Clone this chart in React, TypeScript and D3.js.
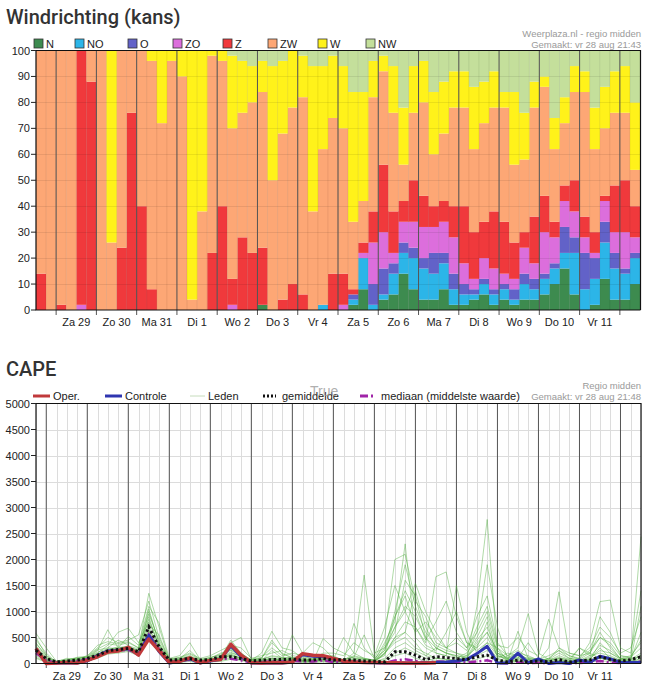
import * as d3 from "d3";

// ---- Windrichting (kans): percentage per direction, 60 six-hour slots ----
const dirKeys = ["N", "NO", "O", "ZO", "Z", "ZW", "W", "NW"];
const dirColors = ["#3d8b4f", "#2cb5e8", "#6262c8", "#dc6edc", "#f0393c", "#fda775", "#fff21a", "#c4df9b"];

const dirN = [
  0, 0, 0, 0, 0, 0, 0, 0, 0, 0,
  0, 0, 0, 0, 0, 0, 0, 0, 0, 0,
  0, 0, 2, 0, 0, 0, 0, 0, 0, 0,
  0, 2, 8, 0, 4, 6, 14, 8, 4, 4,
  8, 2, 2, 4, 6, 2, 4, 2, 4, 4,
  6, 10, 16, 6, 0, 2, 12, 4, 4, 10,
];
const dirNO = [
  0, 0, 0, 0, 0, 0, 0, 0, 0, 0,
  0, 0, 0, 0, 0, 0, 0, 0, 0, 0,
  0, 0, 0, 0, 0, 0, 0, 0, 2, 0,
  0, 2, 12, 2, 2, 8, 8, 12, 12, 10,
  10, 6, 4, 2, 4, 4, 4, 2, 6, 4,
  6, 6, 6, 16, 8, 10, 14, 12, 10, 10,
];
const dirO = [
  0, 0, 0, 0, 0, 0, 0, 0, 0, 0,
  0, 0, 0, 0, 0, 0, 0, 0, 0, 0,
  0, 0, 0, 0, 0, 0, 0, 0, 0, 0,
  0, 2, 0, 8, 10, 4, 4, 4, 4, 8,
  4, 6, 4, 2, 2, 2, 2, 4, 4, 4,
  2, 2, 10, 6, 14, 8, 8, 6, 2, 2,
];
const dirZO = [
  0, 0, 0, 0, 2, 0, 0, 0, 0, 0,
  0, 0, 0, 0, 0, 0, 0, 0, 0, 2,
  0, 0, 0, 0, 0, 0, 0, 0, 0, 0,
  2, 0, 2, 16, 14, 4, 8, 10, 12, 10,
  12, 14, 8, 4, 8, 8, 4, 4, 10, 6,
  16, 10, 10, 10, 6, 2, 8, 8, 14, 6,
];
const dirZ = [
  14, 0, 2, 0, 98, 88, 0, 0, 24, 76,
  40, 8, 0, 0, 0, 0, 0, 22, 40, 10,
  28, 22, 22, 0, 4, 10, 6, 0, 0, 14,
  12, 2, 4, 12, 26, 16, 8, 16, 12, 8,
  8, 12, 22, 18, 14, 22, 20, 14, 6, 18,
  14, 6, 6, 12, 8, 8, 2, 18, 20, 12,
];
const dirZW = [
  86, 100, 98, 100, 0, 12, 100, 26, 76, 24,
  60, 88, 72, 96, 90, 4, 38, 76, 56, 58,
  48, 58, 60, 50, 64, 68, 76, 38, 60, 60,
  56, 26, 16, 44, 36, 38, 14, 26, 36, 20,
  26, 38, 38, 32, 38, 40, 44, 30, 28, 42,
  42, 28, 24, 34, 48, 32, 26, 28, 26, 14,
];
const dirW = [
  0, 0, 0, 0, 0, 0, 0, 74, 0, 0,
  0, 4, 28, 4, 10, 96, 62, 2, 4, 28,
  20, 14, 12, 44, 28, 22, 16, 56, 32, 24,
  24, 50, 42, 14, 6, 18, 22, 18, 16, 24,
  20, 14, 14, 24, 16, 14, 6, 28, 18, 10,
  4, 12, 10, 10, 8, 16, 16, 16, 18, 26,
];
const dirNW = [
  0, 0, 0, 0, 0, 0, 0, 0, 0, 0,
  0, 0, 0, 0, 0, 0, 0, 0, 0, 2,
  4, 6, 4, 6, 4, 0, 2, 6, 6, 2,
  6, 16, 16, 4, 2, 6, 22, 6, 4, 16,
  12, 8, 8, 14, 12, 8, 16, 16, 24, 12,
  10, 26, 18, 6, 8, 22, 14, 8, 6, 20,
];
const dirSeries = [dirN, dirNO, dirO, dirZO, dirZ, dirZW, dirW, dirNW];

const dayLabels = ["Za 29", "Zo 30", "Ma 31", "Di 1", "Wo 2", "Do 3", "Vr 4", "Za 5", "Zo 6", "Ma 7", "Di 8", "Wo 9", "Do 10", "Vr 11"];
const dirTicks = [0, 10, 20, 30, 40, 50, 60, 70, 80, 90, 100];
const capeTicks = [0, 500, 1000, 1500, 2000, 2500, 3000, 3500, 4000, 4500, 5000];

// ---- CAPE (J/kg), 60 six-hour points starting vr 28 18:00 ----
const capeOper = [
  290, 0, 10, 20, 10, 60, 130, 220, 240, 310,
  160, 470, 250, 20, 40, 110, 15, 60, 75, 370,
  160, 15, 10, 20, 15, 30, 190, 160, 150, 95,
  45, 30, 20, 20, 15, 15, 10, 10, 10, 15,
];
const capeControle = [
  280, 0, 10, 15, 10, 50, 150, 240, 250, 290,
  170, 540, 230, 10, 40, 90, 10, 50, 80, 340,
  130, 10, 10, 15, 10, 30, 170, 140, 130, 90,
  40, 30, 20, 15, 10, 10, 10, 10, 15, 20,
  30, 50, 75, 190, 330, 10, 10, 200, 10, 90,
  0, 20, 0, 70, 20, 140, 90, 20, 20, 20,
];
const capeMean = [
  255, 95, 30, 45, 65, 95, 160, 245, 270, 290,
  225, 705, 320, 65, 75, 95, 65, 75, 130, 130,
  95, 50, 65, 75, 75, 85, 65, 65, 95, 65,
  75, 65, 50, 45, 30, 225, 225, 160, 75, 130,
  115, 95, 75, 130, 160, 65, 30, 65, 30, 50,
  30, 75, 30, 50, 65, 130, 75, 45, 75, 130,
];
const capeMedian = [
  200, 60, 10, 25, 45, 80, 140, 220, 250, 260,
  200, 560, 280, 30, 50, 70, 30, 50, 90, 90,
  60, 20, 30, 40, 40, 50, 40, 40, 60, 30,
  40, 30, 20, 15, 10, 60, 80, 50, 20, 40,
  30, 30, 20, 40, 60, 10, 5, 20, 10, 15,
  5, 20, 5, 10, 20, 50, 20, 10, 20, 40,
];
const capeMembers = [
  [580, 300, 40, 60, 120, 140, 350, 420, 380, 420, 300, 1350, 700, 60, 80, 140, 40, 100, 200, 250, 150, 80, 120, 300, 150, 200, 150, 80, 120,
    60, 40, 80, 40, 30, 200, 500, 600, 400, 150, 300, 200, 120, 60, 1100, 2770, 200, 40, 80, 20, 60, 10, 90, 30, 40, 80, 300, 100, 40, 80, 150],
  [450, 200, 20, 30, 80, 100, 250, 650, 300, 520, 350, 1100, 780, 100, 150, 400, 80, 90, 120, 450, 200, 60, 200, 620, 300, 250, 100, 60, 150,
    150, 50, 770, 300, 100, 500, 2000, 2100, 1200, 900, 400, 300, 200, 100, 400, 600, 150, 100, 200, 80, 50, 100, 60, 40, 80, 60, 400, 200, 100, 150, 400],
  [350, 100, 10, 10, 40, 80, 150, 200, 250, 260, 180, 900, 300, 30, 50, 100, 30, 60, 100, 150, 100, 30, 50, 80, 60, 550, 200, 400, 300,
    100, 60, 200, 1700, 200, 300, 700, 1000, 1540, 1000, 600, 300, 500, 300, 900, 1300, 400, 150, 300, 960, 200, 80, 300, 150, 100, 400, 1190, 1220, 300, 200, 1400],
  [300, 50, 0, 20, 50, 70, 120, 300, 450, 350, 200, 1000, 400, 20, 40, 60, 10, 50, 80, 400, 500, 80, 100, 400, 200, 100, 50, 30, 480,
    300, 200, 100, 80, 60, 150, 900, 1300, 700, 400, 1670, 1760, 900, 400, 300, 800, 100, 200, 150, 100, 50, 300, 1380, 200, 150, 200, 100, 60, 80, 120, 300],
  [200, 80, 50, 80, 100, 120, 200, 350, 600, 680, 400, 800, 350, 50, 90, 250, 60, 80, 150, 300, 120, 40, 60, 100, 50, 60, 40, 50, 70,
    50, 30, 40, 30, 20, 300, 600, 1600, 1300, 500, 200, 150, 1500, 600, 200, 400, 300, 50, 620, 100, 80, 40, 100, 80, 300, 200, 600, 300, 100, 80, 200],
  [150, 30, 10, 40, 60, 90, 180, 250, 280, 300, 260, 600, 250, 40, 30, 80, 20, 40, 60, 100, 80, 20, 30, 50, 80, 70, 60, 40, 60,
    40, 20, 30, 20, 10, 200, 400, 500, 300, 200, 100, 80, 60, 150, 600, 1900, 700, 80, 40, 20, 10, 20, 40, 30, 20, 60, 100, 80, 40, 30, 100],
  [100, 20, 0, 0, 20, 50, 100, 180, 200, 230, 150, 500, 200, 10, 20, 40, 0, 30, 40, 80, 60, 10, 20, 30, 20, 30, 20, 20, 30,
    20, 10, 20, 10, 10, 50, 150, 200, 100, 50, 40, 30, 20, 30, 80, 150, 50, 20, 30, 10, 10, 10, 20, 10, 10, 30, 50, 40, 20, 20, 40],
  [500, 150, 30, 100, 80, 150, 300, 500, 400, 450, 550, 1200, 500, 80, 120, 200, 100, 150, 250, 350, 300, 100, 150, 200, 250, 150, 120, 100, 200,
    200, 150, 400, 250, 150, 700, 1500, 1000, 600, 800, 500, 300, 400, 250, 700, 1100, 350, 300, 500, 250, 150, 850, 300, 200, 150, 300, 700, 500, 200, 300, 900],
  [250, 60, 20, 50, 70, 110, 220, 280, 300, 330, 250, 750, 550, 50, 60, 120, 50, 70, 110, 200, 150, 50, 80, 150, 120, 100, 60, 80, 100,
    90, 60, 150, 100, 60, 400, 800, 2300, 500, 300, 200, 150, 100, 200, 500, 900, 200, 100, 150, 60, 40, 100, 250, 100, 60, 150, 900, 600, 150, 100, 2440],
  [400, 120, 40, 70, 90, 130, 280, 380, 350, 400, 300, 950, 450, 70, 100, 150, 70, 110, 180, 280, 200, 60, 100, 450, 180, 120, 80, 90, 150,
    120, 80, 120, 550, 100, 250, 1000, 1900, 1100, 600, 350, 250, 200, 150, 300, 500, 150, 80, 100, 400, 100, 60, 150, 80, 100, 250, 500, 350, 80, 60, 150],
  [180, 40, 10, 30, 50, 80, 140, 220, 240, 270, 200, 650, 280, 30, 50, 90, 40, 60, 90, 150, 100, 30, 40, 60, 50, 60, 50, 40, 70,
    60, 40, 50, 40, 30, 100, 300, 400, 250, 150, 100, 80, 60, 80, 200, 350, 100, 40, 60, 40, 20, 30, 60, 40, 30, 80, 150, 120, 60, 40, 80],
  [320, 90, 30, 60, 60, 100, 190, 260, 320, 300, 220, 850, 350, 60, 70, 110, 50, 80, 130, 220, 130, 50, 70, 100, 90, 90, 70, 60, 90,
    80, 50, 100, 80, 50, 250, 700, 1100, 900, 500, 300, 200, 150, 120, 450, 700, 200, 120, 200, 150, 60, 80, 200, 100, 60, 120, 350, 250, 100, 80, 600],
  [280, 70, 20, 40, 70, 90, 170, 240, 260, 310, 240, 700, 300, 40, 60, 100, 60, 70, 120, 180, 110, 40, 60, 90, 70, 80, 60, 50, 80,
    70, 40, 80, 60, 40, 180, 500, 800, 700, 350, 250, 600, 1000, 400, 250, 400, 150, 60, 100, 80, 40, 60, 120, 60, 40, 100, 250, 200, 80, 60, 1100],
  [220, 110, 30, 20, 40, 60, 160, 230, 270, 280, 230, 550, 260, 50, 80, 130, 30, 60, 100, 170, 90, 20, 50, 250, 100, 80, 40, 70, 80,
    80, 500, 200, 100, 60, 200, 450, 600, 1400, 700, 300, 200, 150, 100, 350, 600, 250, 80, 120, 70, 30, 50, 100, 40, 300, 150, 200, 150, 60, 40, 150],
  [380, 160, 20, 50, 110, 120, 260, 300, 290, 340, 280, 1050, 380, 90, 110, 180, 80, 120, 160, 260, 180, 70, 90, 130, 110, 110, 90, 70, 110,
    110, 70, 130, 90, 70, 350, 900, 1400, 1000, 450, 800, 1200, 600, 300, 600, 1000, 300, 150, 250, 120, 80, 150, 250, 150, 80, 200, 500, 400, 150, 120, 450],
  [120, 30, 0, 10, 30, 60, 110, 200, 220, 250, 180, 620, 240, 20, 40, 70, 20, 40, 70, 120, 70, 20, 30, 40, 30, 40, 30, 30, 40,
    30, 20, 30, 20, 20, 80, 200, 300, 200, 100, 60, 50, 40, 60, 150, 250, 80, 30, 40, 30, 10, 20, 40, 20, 20, 50, 100, 80, 30, 20, 60],
];

const axisFont = "'Liberation Sans', Arial, sans-serif";
const titleFont = "Roboto, 'Liberation Sans', sans-serif";

export default function App() {
  const slots = d3.range(60);

  // top chart scales
  const x1 = d3.scaleBand<number>().domain(slots).range([36, 640]).padding(0);
  const y1 = d3.scaleLinear().domain([0, 100]).range([310, 50.5]);
  const stack = d3
    .stack<number>()
    .keys(dirKeys)
    .value((i, key) => dirSeries[dirKeys.indexOf(key)][i])(slots);
  const bw = x1.bandwidth();
  const dayEdge1 = (k: number) => (x1(2 + 4 * k) ?? 0);

  // bottom chart scales
  const x2 = d3.scaleLinear().domain([0, 59]).range([36, 641]);
  const y2 = d3.scaleLinear().domain([0, 5000]).range([663.5, 403.5]);
  const line = d3
    .line<number>()
    .x((_, i) => x2(i))
    .y((v) => y2(v));

  const legendX = [34, 75, 128, 173, 223, 268, 318, 366];

  return (
    <svg width={651} height={685} style={{ position: "absolute", left: 0, top: 0, background: "#fff" }}>
      {/* ===== Windrichting ===== */}
      <text x={6} y={24} fontFamily={titleFont} fontSize={20} fontWeight={500} fill="#333">
        Windrichting (kans)
      </text>
      <g fontFamily={axisFont} fontSize={11} fill="#222">
        {dirKeys.map((k, i) => (
          <g key={k} transform={`translate(${legendX[i]},39)`}>
            <rect x={0} y={0} width={9} height={9} fill={dirColors[i]} stroke="#333" strokeWidth={0.8} />
            <text x={12} y={8.5}>{k}</text>
          </g>
        ))}
      </g>
      <g fontFamily={axisFont} fontSize={9.5} fill="#9a9a9a" textAnchor="end">
        <text x={641} y={37}>Weerplaza.nl - regio midden</text>
        <text x={641} y={48}>Gemaakt: vr 28 aug 21:43</text>
      </g>

      {stack.map((layer, li) => (
        <g key={layer.key} fill={dirColors[li]}>
          {layer.map((d) =>
            d[1] - d[0] > 0 ? (
              <rect
                key={d.data}
                x={x1(d.data)}
                y={y1(d[1])}
                width={bw + 0.2}
                height={y1(d[0]) - y1(d[1])}
              />
            ) : null
          )}
        </g>
      ))}
      {/* faint grid over the bars */}
      <g stroke="rgba(0,0,0,0.08)" strokeWidth={1}>
        {dirTicks.slice(1, -1).map((t) => (
          <line key={t} x1={36} x2={640} y1={Math.round(y1(t)) + 0.5} y2={Math.round(y1(t)) + 0.5} />
        ))}
        {slots.map((i) => (
          <line key={i} x1={(x1(i) ?? 0)} x2={(x1(i) ?? 0)} y1={50.5} y2={310} />
        ))}
      </g>
      <g stroke="#555" strokeWidth={1}>
        {d3.range(15).map((k) => (
          <line key={k} x1={dayEdge1(k)} x2={dayEdge1(k)} y1={50.5} y2={315} />
        ))}
      </g>
      <g stroke="#111" strokeWidth={1.2} fill="none">
        <line x1={36} x2={641} y1={50.5} y2={50.5} />
        <line x1={640.5} x2={640.5} y1={50} y2={310} />
        <line x1={35.5} x2={640.5} y1={310} y2={310} />
        <line x1={36} x2={36} y1={50} y2={310} />
      </g>
      <g fontFamily={axisFont} fontSize={11} fill="#222">
        {dirTicks.map((t) => (
          <g key={t}>
            <line x1={31} x2={36} y1={y1(t)} y2={y1(t)} stroke="#222" />
            <text x={30} y={y1(t) + 4} textAnchor="end">{t}</text>
          </g>
        ))}
        {dayLabels.map((l, k) => (
          <text key={l} x={(dayEdge1(k) + dayEdge1(k + 1)) / 2} y={326} textAnchor="middle">{l}</text>
        ))}
      </g>

      {/* ===== CAPE ===== */}
      <text x={6} y={376} fontFamily={titleFont} fontSize={20} fontWeight={500} fill="#333">
        CAPE
      </text>
      <g fontFamily={axisFont} fontSize={11} fill="#222">
        <line x1={33} x2={50} y1={396} y2={396} stroke="#c0393b" strokeWidth={3} />
        <text x={53} y={400}>Oper.</text>
        <line x1={105} x2={122} y1={396} y2={396} stroke="#2e35b0" strokeWidth={3} />
        <text x={125} y={400}>Controle</text>
        <line x1={190} x2={205} y1={396} y2={396} stroke="#c6dcbc" strokeWidth={1} />
        <text x={208} y={400}>Leden</text>
        <line x1={263} x2={276} y1={396} y2={396} stroke="#111" strokeWidth={3} strokeDasharray="2,2" />
        <text x={282} y={400}>gemiddelde</text>
        <text x={310} y={396} fontSize={14} fill="#9a9a9a" fillOpacity={0.8}>True</text>
        <line x1={360} x2={374} y1={396} y2={396} stroke="#a024a8" strokeWidth={3} strokeDasharray="8,3,2,3" />
        <text x={381} y={400}>mediaan (middelste waarde)</text>
      </g>
      <g fontFamily={axisFont} fontSize={9.5} fill="#9a9a9a" textAnchor="end">
        <text x={641} y={389}>Regio midden</text>
        <text x={641} y={400}>Gemaakt: vr 28 aug 21:48</text>
      </g>

      <g stroke="#dcdcdc" strokeWidth={1}>
        {capeTicks.slice(1, -1).map((t) => (
          <line key={t} x1={36} x2={641} y1={Math.round(y2(t)) + 0.5} y2={Math.round(y2(t)) + 0.5} />
        ))}
        {slots.map((i) => (
          <line key={i} x1={Math.round(x2(i)) + 0.5} x2={Math.round(x2(i)) + 0.5} y1={403.5} y2={663.5} />
        ))}
      </g>
      <g stroke="#555" strokeWidth={1}>
        {d3.range(15).map((k) => (
          <line key={k} x1={x2(1 + 4 * k)} x2={x2(1 + 4 * k)} y1={403.5} y2={668} />
        ))}
      </g>

      <g fill="none">
        {capeMembers.map((m, i) => (
          <path key={i} d={line(m) ?? ""} stroke="#4fae3f" strokeOpacity={0.45} strokeWidth={1} />
        ))}
        <path d={line(capeMedian) ?? ""} stroke="#a024a8" strokeWidth={2.5} strokeDasharray="8,3,2,3" />
        <path d={line(capeControle) ?? ""} stroke="#2e35b0" strokeWidth={3} strokeLinejoin="round" />
        <path d={line(capeOper) ?? ""} stroke="#c0393b" strokeWidth={3.5} strokeLinejoin="round" />
        <path d={line(capeMean) ?? ""} stroke="#111" strokeWidth={3} strokeDasharray="2.5,2.5" />
      </g>

      <g stroke="#111" strokeWidth={1.2} fill="none">
        <line x1={36} x2={641} y1={403.5} y2={403.5} />
        <line x1={641} x2={641} y1={403} y2={663.5} />
        <line x1={35.5} x2={641} y1={663.5} y2={663.5} />
        <line x1={36} x2={36} y1={403} y2={663.5} />
      </g>
      <g fontFamily={axisFont} fontSize={11} fill="#222">
        {capeTicks.map((t) => (
          <g key={t}>
            <line x1={31} x2={36} y1={y2(t)} y2={y2(t)} stroke="#222" />
            <text x={30} y={y2(t) + 4} textAnchor="end">{t}</text>
          </g>
        ))}
        {dayLabels.map((l, k) => (
          <text key={l} x={x2(3 + 4 * k)} y={680} textAnchor="middle">{l}</text>
        ))}
      </g>
    </svg>
  );
}
